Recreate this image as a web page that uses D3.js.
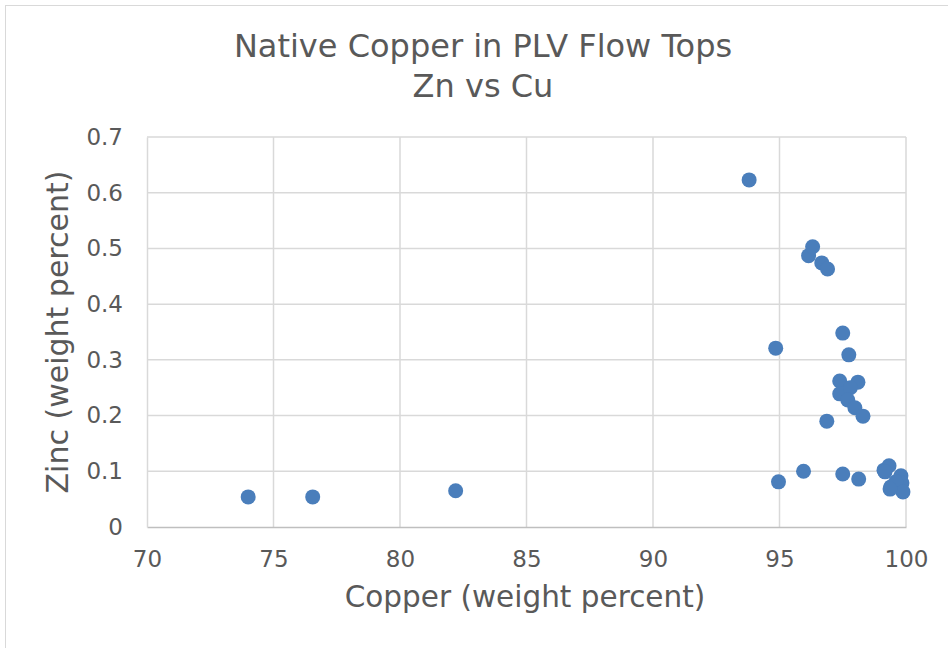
<!DOCTYPE html>
<html>
<head>
<meta charset="utf-8">
<script src="https://cdn.jsdelivr.net/npm/d3@7"></script>
<style>
  body { margin: 0; background: #fff; }
  text { font-family: Verdana, "DejaVu Sans", sans-serif; }
</style>
</head>
<body>
<div id="chart"></div>
<script>
// Copper (x) and zinc (y) in weight percent
const copper = [74.0, 76.55, 82.2, 93.8, 94.85, 94.96, 95.95, 96.15, 96.31, 96.67, 96.9, 96.87,
  97.5, 97.74, 97.38, 98.1, 97.38, 97.8, 97.7, 97.98, 98.3, 97.5, 98.13,
  99.13, 99.33, 99.17, 99.8, 99.84, 99.4, 99.6, 99.88, 99.37];
const zinc = [0.054, 0.054, 0.065, 0.623, 0.321, 0.081, 0.10, 0.487, 0.503, 0.474, 0.463, 0.19,
  0.348, 0.309, 0.262, 0.26, 0.239, 0.25, 0.228, 0.214, 0.199, 0.095, 0.086,
  0.102, 0.110, 0.099, 0.092, 0.079, 0.072, 0.081, 0.063, 0.068];
const xTicks = [70, 75, 80, 85, 90, 95, 100];
const yTicks = [0, 0.1, 0.2, 0.3, 0.4, 0.5, 0.6, 0.7];

const width = 948, height = 648;
const margin = { top: 137, right: 42, bottom: 121, left: 147 };

const svg = d3.select('#chart')
  .append('svg')
  .attr('width', width)
  .attr('height', height);

// chart frame
svg.append('rect')
  .attr('x', 5.5).attr('y', 5.5)
  .attr('width', width).attr('height', height)
  .attr('fill', '#fff')
  .attr('stroke', '#d9d9d9');

const x = d3.scaleLinear().domain([70, 100]).range([margin.left, width - margin.right]);
const y = d3.scaleLinear().domain([0, 0.7]).range([height - margin.bottom, margin.top]);

// gridlines
svg.append('g')
  .selectAll('line.v')
  .data(xTicks.slice(1))
  .enter().append('line')
  .attr('x1', d => x(d)).attr('x2', d => x(d))
  .attr('y1', y(0)).attr('y2', y(0.7))
  .attr('stroke', '#d9d9d9').attr('stroke-width', 1.5);

svg.append('g')
  .selectAll('line.h')
  .data(yTicks.slice(1))
  .enter().append('line')
  .attr('x1', x(70)).attr('x2', x(100))
  .attr('y1', d => y(d)).attr('y2', d => y(d))
  .attr('stroke', '#d9d9d9').attr('stroke-width', 1.5);

// axes
const xAxis = svg.append('g')
  .attr('transform', `translate(0,${y(0)})`)
  .call(d3.axisBottom(x).tickValues(xTicks).tickSize(0).tickPadding(24).tickFormat(d3.format('d')));
const yAxis = svg.append('g')
  .attr('transform', `translate(${x(70)},0)`)
  .call(d3.axisLeft(y).tickValues(yTicks).tickSize(0).tickPadding(24).tickFormat(d => d === 0 ? '0' : d3.format('.1f')(d)));

[xAxis, yAxis].forEach(a => {
  a.select('.domain').attr('stroke', '#bfbfbf').attr('stroke-width', 1.5);
  a.selectAll('text').attr('fill', '#595959').style('font-size', '23px');
});
yAxis.select('.domain').attr('stroke', '#d9d9d9');

// points
svg.append('g')
  .selectAll('circle')
  .data(copper.map((c, i) => ({ cu: c, zn: zinc[i] })))
  .enter().append('circle')
  .attr('cx', d => x(d.cu))
  .attr('cy', d => y(d.zn))
  .attr('r', 7.5)
  .attr('fill', '#4a7ebb');

// titles
svg.append('text')
  .attr('x', 483).attr('y', 57)
  .attr('text-anchor', 'middle')
  .attr('fill', '#595959')
  .style('font-size', '32px')
  .text('Native Copper in PLV Flow Tops');
svg.append('text')
  .attr('x', 483).attr('y', 97)
  .attr('text-anchor', 'middle')
  .attr('fill', '#595959')
  .style('font-size', '32px')
  .text('Zn vs Cu');

svg.append('text')
  .attr('x', 525).attr('y', 607)
  .attr('text-anchor', 'middle')
  .attr('fill', '#595959')
  .style('font-size', '29.5px')
  .text('Copper (weight percent)');

svg.append('text')
  .attr('transform', `translate(68,332) rotate(-90)`)
  .attr('text-anchor', 'middle')
  .attr('fill', '#595959')
  .style('font-size', '30px')
  .text('Zinc (weight percent)');
</script>
</body>
</html>
